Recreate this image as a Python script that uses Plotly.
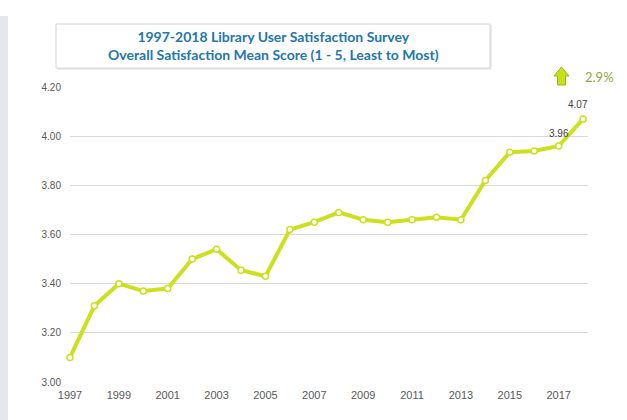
import plotly.graph_objects as go

years = list(range(1997, 2019))
scores = [3.10, 3.31, 3.40, 3.37, 3.38, 3.50, 3.54, 3.455, 3.43, 3.62, 3.65,
          3.69, 3.66, 3.65, 3.66, 3.67, 3.66, 3.82, 3.935, 3.94, 3.96, 4.07]
y_ticks = [3.0, 3.2, 3.4, 3.6, 3.8, 4.0, 4.2]
x_ticks = list(range(1997, 2018, 2))
title_lines = ["1997-2018 Library User Satisfaction Survey",
               "Overall Satisfaction Mean Score (1 - 5, Least to Most)"]
change_label = "2.9%"

W, H = 627, 420
L, R, T, B = 70, 588, 87, 382
pw, ph = R - L, B - T

def px(x):
    return (x - L) / pw

def py(y):
    return (B - y) / ph

LINE = "#cbe11e"

fig = go.Figure()
fig.add_trace(go.Scatter(
    x=years, y=scores, mode="lines+markers",
    line=dict(color=LINE, width=4),
    marker=dict(size=6, color="white", line=dict(color=LINE, width=1.5)),
    cliponaxis=False, hoverinfo="skip", showlegend=False,
))

shapes = []
shapes.append(dict(type="rect", xref="paper", yref="paper",
                   x0=px(0), x1=px(8), y0=py(420), y1=py(16),
                   fillcolor="#e6e7e9", line=dict(width=0), layer="below"))
shapes.append(dict(type="rect", xref="paper", yref="paper",
                   x0=px(57), x1=px(492), y0=py(70), y1=py(25),
                   fillcolor="#ececec", line=dict(width=0), layer="below"))
shapes.append(dict(type="rect", xref="paper", yref="paper",
                   x0=px(56), x1=px(490), y0=py(68), y1=py(24),
                   fillcolor="white", line=dict(color="#d4d4d4", width=1), layer="below"))
ax = [561.5, 569, 565.5, 565.5, 557.5, 557.5, 554]
ay = [67, 76, 76, 85, 85, 76, 76]
path = "M " + " L ".join(f"{px(a):.5f},{py(b):.5f}" for a, b in zip(ax, ay)) + " Z"
shapes.append(dict(type="path", xref="paper", yref="paper", path=path,
                   fillcolor="#c8e01a", line=dict(color="#9db322", width=1)))

annotations = [
    dict(xref="paper", yref="paper", x=px(273), y=py(46),
         text="<b>" + title_lines[0] + "</b><br><b>" + title_lines[1] + "</b>",
         showarrow=False, font=dict(family="Lato", size=14, color="#2376b0"),
         align="center", xanchor="center", yanchor="middle"),
    dict(xref="paper", yref="paper", x=px(599), y=py(77), text=change_label,
         showarrow=False, font=dict(family="Lato", size=13, color="#8fa83a"),
         xanchor="center", yanchor="middle"),
    dict(x=years[-1], y=scores[-1], text=f"{scores[-1]:.2f}", showarrow=False,
         xshift=-5, yshift=14, font=dict(family="Liberation Sans", size=10, color="#404040")),
    dict(x=years[-2], y=scores[-2], text=f"{scores[-2]:.2f}", showarrow=False,
         xshift=0, yshift=13, font=dict(family="Liberation Sans", size=10, color="#404040")),
]

fig.update_layout(
    width=W, height=H,
    margin=dict(l=L, r=W - R, t=T, b=H - B),
    paper_bgcolor="white", plot_bgcolor="white",
    shapes=shapes, annotations=annotations,
    xaxis=dict(range=[1997, 2018.2], tickvals=x_ticks, showgrid=False,
               zeroline=False, showline=False, ticks="", ticklabelstandoff=5,
               tickfont=dict(family="Liberation Sans", size=11, color="#595959")),
    yaxis=dict(range=[3.0, 4.2], tickvals=y_ticks, tickformat=".2f",
               showgrid=True, gridcolor="#dadada", gridwidth=1,
               zeroline=False, showline=False, ticks="", ticklabelstandoff=8,
               tickfont=dict(family="Liberation Sans", size=10, color="#595959")),
)

fig.write_html("out.html", config={"displayModeBar": False},
               post_script="document.body.style.margin='0';document.body.style.overflow='hidden';")
